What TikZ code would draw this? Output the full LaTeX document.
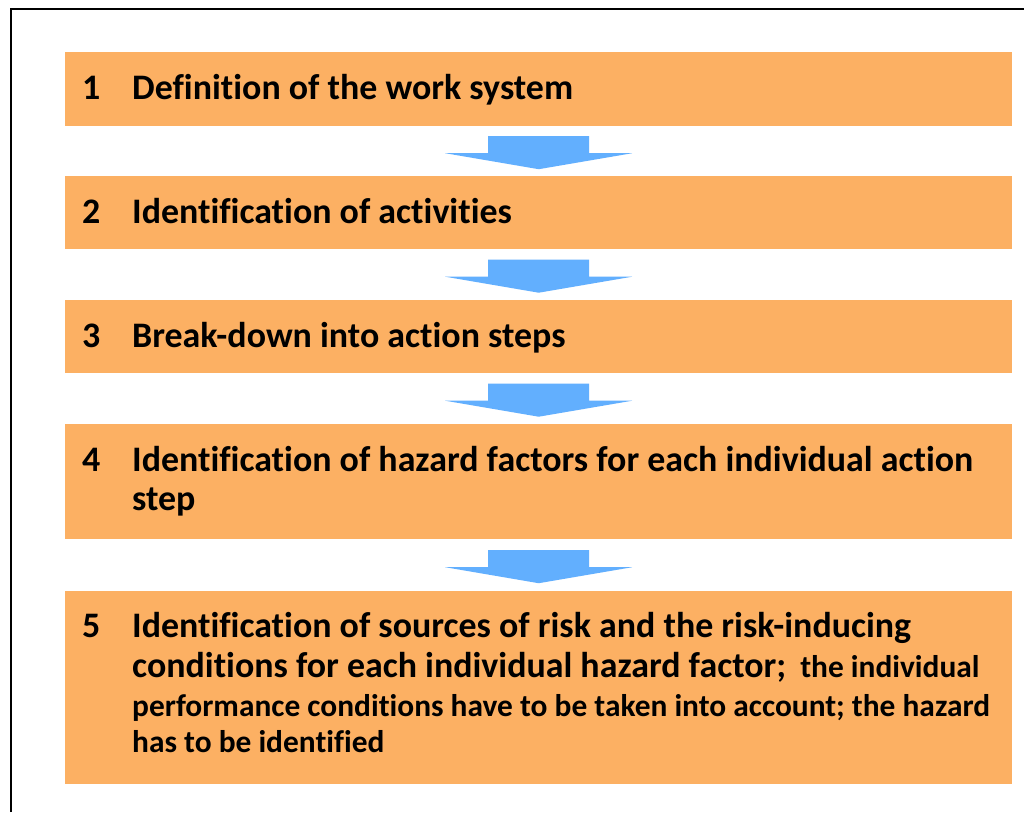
\documentclass[tikz,border=0pt]{standalone}
\usepackage{fontspec}
\setmainfont[Ligatures={NoCommon,NoRequired,NoContextual}]{Carlito}
\definecolor{boxorange}{RGB}{252,176,99}
\definecolor{arrowblue}{RGB}{98,175,254}
\newcommand{\smallpart}{\fontsize{31.4}{36}\bfseries\selectfont}
\begin{document}
\begin{tikzpicture}[x=1pt,y=-1pt,
  stepbox/.style={fill=boxorange,draw=none,inner sep=0pt,minimum width=947pt,anchor=north west},
  numtxt/.style={inner sep=0pt,anchor=base west,font=\fontsize{35.9}{39}\bfseries\selectfont},
  linetxt/.style={inner sep=0pt,anchor=base west,font=\fontsize{35.9}{39}\bfseries\selectfont},
  smalltxt/.style={inner sep=0pt,anchor=base west,font=\smallpart},
  flowarrow/.style={fill=arrowblue,draw=none}]
\useasboundingbox (0,0) rectangle (1024,812);
\fill[white] (0,0) rectangle (1024,812);
% frame (only left and top edges are visible)
\draw[line width=2.5pt] (11,812) -- (11,9) -- (1024,9);
% boxes
\node[stepbox,minimum height=74pt] (b1) at (65,52) {};
\node[stepbox,minimum height=73pt] (b2) at (65,176) {};
\node[stepbox,minimum height=73pt] (b3) at (65,300) {};
\node[stepbox,minimum height=115pt] (b4) at (65,424) {};
\node[stepbox,minimum height=193pt] (b5) at (65,591) {};
% numbers
\node[numtxt] (n1) at (82,99) {1};
\node[numtxt] (n2) at (82,223) {2};
\node[numtxt] (n3) at (82,347) {3};
\node[numtxt] (n4) at (82,471) {4};
\node[numtxt] (n5) at (82,637) {5};
% texts
\node[linetxt] (t1) at (132,99) {Definition of the work system};
\node[linetxt] (t2) at (132,223) {Identification of activities};
\node[linetxt] (t3) at (132,347) {Break-down into action steps};
\node[linetxt] (t4a) at (132,471) {Identification of hazard factors for each individual action};
\node[linetxt] (t4b) at (132,510) {step};
\node[linetxt] (t5a) at (132,637) {Identification of sources of risk and the risk-inducing};
\node[linetxt] (t5b) at (132,677) {conditions for each individual hazard factor;{\smallpart\ \ the individual}};
\node[smalltxt] (t5c) at (132,716) {performance conditions have to be taken into account; the hazard};
\node[smalltxt] (t5d) at (132,752) {has to be identified};
% arrows between boxes
\foreach \a/\b in {b1/b2,b2/b3,b3/b4,b4/b5}{
  \path (\a.south) -- (\b.north) coordinate[midway] (m-\a);
  \fill[flowarrow,shift={(m-\a)}] (-50.5,-15) -- (50.5,-15) -- (50.5,2) -- (93.5,2) -- (0,18) -- (-93.5,2) -- (-50.5,2) -- cycle;
}
\end{tikzpicture}
\end{document}
